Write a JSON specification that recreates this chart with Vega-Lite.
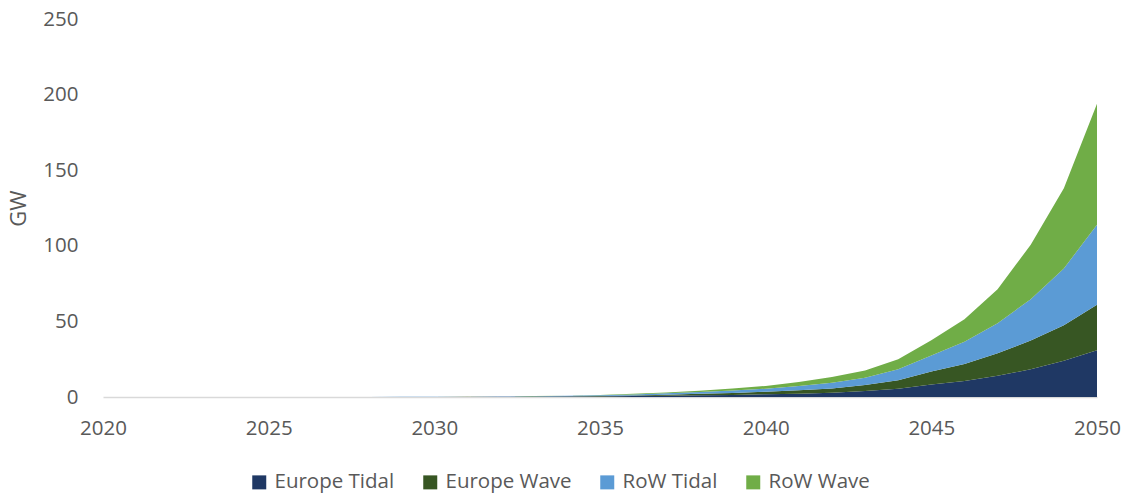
{
  "$schema": "https://vega.github.io/schema/vega-lite/v6.json",
  "autosize": {"type": "none"},
  "width": 994,
  "height": 378,
  "padding": {"left": 103, "top": 19, "right": 32, "bottom": 99},
  "background": "white",
  "config": {"view": {"stroke": null}, "font": "Open Sans"},
  "datasets": {
    "raw": [
      {"year": 2020, "ET": 0.01, "EW": 0.0, "RT": 0.01, "RW": 0.0},
      {"year": 2021, "ET": 0.01, "EW": 0.0, "RT": 0.01, "RW": 0.0},
      {"year": 2022, "ET": 0.01, "EW": 0.0, "RT": 0.01, "RW": 0.0},
      {"year": 2023, "ET": 0.01, "EW": 0.0, "RT": 0.01, "RW": 0.0},
      {"year": 2024, "ET": 0.01, "EW": 0.0, "RT": 0.01, "RW": 0.0},
      {"year": 2025, "ET": 0.02, "EW": 0.0, "RT": 0.02, "RW": 0.0},
      {"year": 2026, "ET": 0.02, "EW": 0.0, "RT": 0.02, "RW": 0.0},
      {"year": 2027, "ET": 0.02, "EW": 0.0, "RT": 0.03, "RW": 0.0},
      {"year": 2028, "ET": 0.03, "EW": 0.01, "RT": 0.03, "RW": 0.0},
      {"year": 2029, "ET": 0.04, "EW": 0.01, "RT": 0.04, "RW": 0.0},
      {"year": 2030, "ET": 0.05, "EW": 0.01, "RT": 0.06, "RW": 0.0},
      {"year": 2031, "ET": 0.08, "EW": 0.02, "RT": 0.1, "RW": 0.01},
      {"year": 2032, "ET": 0.12, "EW": 0.04, "RT": 0.15, "RW": 0.02},
      {"year": 2033, "ET": 0.2, "EW": 0.08, "RT": 0.25, "RW": 0.05},
      {"year": 2034, "ET": 0.3, "EW": 0.15, "RT": 0.35, "RW": 0.1},
      {"year": 2035, "ET": 0.4, "EW": 0.25, "RT": 0.5, "RW": 0.2},
      {"year": 2036, "ET": 0.6, "EW": 0.4, "RT": 0.7, "RW": 0.4},
      {"year": 2037, "ET": 0.8, "EW": 0.7, "RT": 0.9, "RW": 0.6},
      {"year": 2038, "ET": 1.1, "EW": 1.0, "RT": 1.2, "RW": 0.9},
      {"year": 2039, "ET": 1.4, "EW": 1.3, "RT": 1.6, "RW": 1.3},
      {"year": 2040, "ET": 1.8, "EW": 1.7, "RT": 2.0, "RW": 1.8},
      {"year": 2041, "ET": 2.2, "EW": 2.2, "RT": 2.9, "RW": 2.6},
      {"year": 2042, "ET": 2.8, "EW": 2.9, "RT": 3.8, "RW": 3.7},
      {"year": 2043, "ET": 4.0, "EW": 3.9, "RT": 4.9, "RW": 4.8},
      {"year": 2044, "ET": 5.5, "EW": 5.5, "RT": 7.3, "RW": 6.6},
      {"year": 2045, "ET": 8.2, "EW": 8.6, "RT": 10.7, "RW": 10.0},
      {"year": 2046, "ET": 10.6, "EW": 11.2, "RT": 14.8, "RW": 14.8},
      {"year": 2047, "ET": 14.0, "EW": 15.0, "RT": 19.8, "RW": 22.5},
      {"year": 2048, "ET": 18.3, "EW": 19.0, "RT": 27.4, "RW": 36.0},
      {"year": 2049, "ET": 24.0, "EW": 23.5, "RT": 37.5, "RW": 53.0},
      {"year": 2050, "ET": 31.0, "EW": 30.0, "RT": 53.0, "RW": 80.0}
    ]
  },
  "data": {"name": "raw"},
  "transform": [
    {"fold": ["ET", "EW", "RT", "RW"], "as": ["key", "value"]},
    {"lookup": "key", "from": {"data": {"values": [
      {"key": "ET", "series": "Europe Tidal", "rank": 1},
      {"key": "EW", "series": "Europe Wave", "rank": 2},
      {"key": "RT", "series": "RoW Tidal", "rank": 3},
      {"key": "RW", "series": "RoW Wave", "rank": 4}
    ]}, "key": "key", "fields": ["series", "rank"]}}
  ],
  "mark": {"type": "area", "interpolate": "linear"},
  "encoding": {
    "x": {
      "field": "year", "type": "quantitative",
      "scale": {"domain": [2020, 2050], "nice": false, "zero": false},
      "axis": {
        "values": [2020, 2025, 2030, 2035, 2040, 2045, 2050],
        "format": "d", "title": null, "grid": false, "ticks": false,
        "domainColor": "#D9D9D9", "domainWidth": 1.5,
        "labelFontSize": 20.5, "labelColor": "#595959", "labelPadding": 21,
        "labelFont": "Open Sans", "labelFlush": false
      }
    },
    "y": {
      "field": "value", "type": "quantitative", "stack": "zero",
      "scale": {"domain": [0, 250], "nice": false},
      "axis": {
        "values": [0, 50, 100, 150, 200, 250],
        "title": "GW", "titleFontSize": 22, "titleColor": "#595959",
        "titleFontWeight": "normal", "titleFont": "Open Sans", "titlePadding": 12,
        "grid": false, "ticks": false, "domain": false,
        "labelFontSize": 20.5, "labelColor": "#595959", "labelPadding": 25,
        "labelFont": "Open Sans"
      }
    },
    "color": {
      "field": "series", "type": "nominal",
      "scale": {
        "domain": ["Europe Tidal", "Europe Wave", "RoW Tidal", "RoW Wave"],
        "range": ["#1F3864", "#375623", "#5B9BD5", "#70AD47"]
      },
      "legend": {
        "title": null, "orient": "none", "direction": "horizontal",
        "legendX": 146, "legendY": 453,
        "symbolType": "square", "symbolSize": 196, "symbolStrokeWidth": 0,
        "labelFontSize": 20.5, "labelColor": "#595959", "labelFont": "Open Sans",
        "labelOffset": 5, "columnPadding": 25
      }
    },
    "order": {"field": "rank", "type": "quantitative", "sort": "ascending"}
  }
}
